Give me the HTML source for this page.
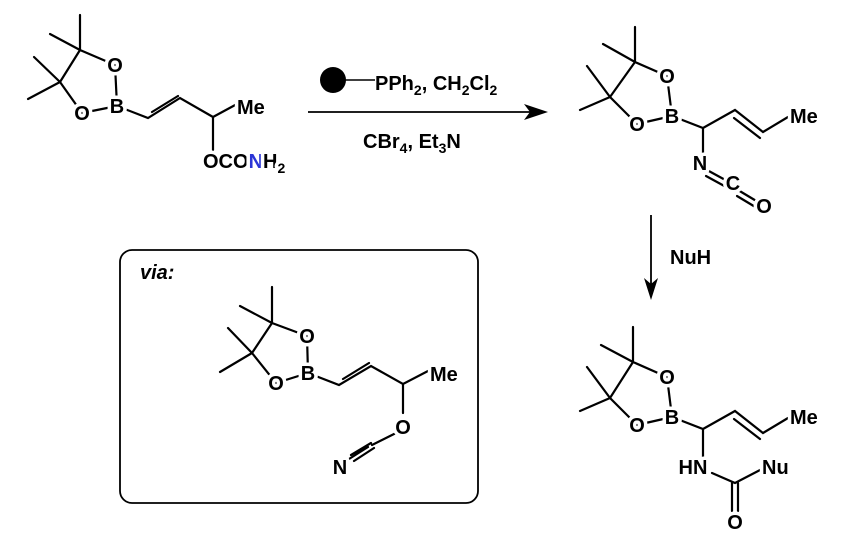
<!DOCTYPE html>
<html><head><meta charset="utf-8"><style>
html,body{margin:0;padding:0;background:#fff;}
svg{display:block;}
text{font-family:"Liberation Sans",Arial,sans-serif;font-weight:bold;font-size:20px;fill:#000;}
.h{stroke:#fff;stroke-width:7px;paint-order:stroke;stroke-linejoin:round;}
.b{stroke:#000;stroke-width:2.2;fill:none;stroke-linecap:round;}
</style></head><body>
<svg width="848" height="545" viewBox="0 0 848 545" xmlns="http://www.w3.org/2000/svg">
<!-- Structure 1: B at 117,106 -->
<g transform="translate(117,106)">
<path class="b" d="M-37,-56 L-57,-24 M-37,-56 L-37,-91 M-37,-56 L-67,-72 M-57,-24 L-83,-49 M-57,-24 L-89,-7 M-37,-56 L-2,-41 M-57,-24 L-35,7 M-2,-41 L0,0 M-35,7 L0,0"/>
<path class="b" d="M0,0 L31,12 L63,-8 L96,11 M35,6 L61,-10 M96,11 L120,-2 M96,11 L96,44"/>
<text class="h" x="-2" y="-34" text-anchor="middle">O</text>
<text class="h" x="-35" y="14" text-anchor="middle">O</text>
<text class="h" x="0" y="7" text-anchor="middle">B</text>
<text class="h" x="120" y="8">Me</text>
<text class="h" x="86" y="62">OCO<tspan fill="#2b35d6">N</tspan>H<tspan font-size="14" dy="5">2</tspan></text>
</g>
<!-- reagents -->
<circle cx="333" cy="80" r="13" fill="#000"/>
<line x1="340" y1="80" x2="375" y2="80" stroke="#000" stroke-width="1.5"/>
<text x="375" y="90">PPh<tspan font-size="14" dy="5">2</tspan><tspan dy="-5">, CH</tspan><tspan font-size="14" dy="5">2</tspan><tspan dy="-5">Cl</tspan><tspan font-size="14" dy="5">2</tspan></text>
<line x1="308" y1="112" x2="540" y2="112" stroke="#000" stroke-width="1.8"/>
<path d="M548,112 L524,104 L530,112 L524,120 Z" fill="#000"/>
<text x="363" y="148">CBr<tspan font-size="14" dy="5">4</tspan><tspan dy="-5">, Et</tspan><tspan font-size="14" dy="5">3</tspan><tspan dy="-5">N</tspan></text>
<!-- Product 1: B at 672,116 -->
<g transform="translate(672,116)">
<path class="b" d="M-37,-54 L-62,-19 M-37,-54 L-37,-89 M-37,-54 L-69,-72 M-62,-19 L-85,-50 M-62,-19 L-92,-6 M-37,-54 L-5,-40 M-62,-19 L-35,8 M-5,-40 L0,0 M-35,8 L0,0"/>
<path class="b" d="M0,0 L31,12 L63,-6 L91,16 L116,1 M62,2 L88,22 M31,12 L31,44"/>
<path class="b" d="M35,54 L57,66 M34,60 L56,72 M66,74 L86,86 M65,80 L85,92"/>
<text class="h" x="-5" y="-33" text-anchor="middle">O</text>
<text class="h" x="-35" y="15" text-anchor="middle">O</text>
<text class="h" x="0" y="7" text-anchor="middle">B</text>
<text class="h" x="118" y="7">Me</text>
<text class="h" x="28" y="54" text-anchor="middle" fill="#2b35d6">N</text>
<text class="h" x="61" y="74" text-anchor="middle">C</text>
<text class="h" x="92" y="97" text-anchor="middle">O</text>
</g>
<!-- vertical arrow -->
<line x1="651" y1="215" x2="651" y2="292" stroke="#000" stroke-width="1.8"/>
<path d="M651,300 L644,278 L651,284 L658,278 Z" fill="#000"/>
<text x="670" y="264">NuH</text>
<!-- Product 2: B at 672,417 -->
<g transform="translate(672,417)">
<path class="b" d="M-39,-55 L-62,-19 M-39,-55 L-39,-90 M-39,-55 L-71,-72 M-62,-19 L-85,-50 M-62,-19 L-92,-6 M-39,-55 L-5,-40 M-62,-19 L-35,8 M-5,-40 L0,0 M-35,8 L0,0"/>
<path class="b" d="M0,0 L31,12 L63,-6 L91,16 L116,1 M62,2 L88,22 M31,12 L31,40 M40,56 L63,66 L90,52 M60,66 L60,94 M66,66 L66,94"/>
<text class="h" x="-5" y="-33" text-anchor="middle">O</text>
<text class="h" x="-35" y="15" text-anchor="middle">O</text>
<text class="h" x="0" y="7" text-anchor="middle">B</text>
<text class="h" x="118" y="7">Me</text>
<text class="h" x="21" y="57" text-anchor="middle" fill="#2b35d6">HN</text>
<text class="h" x="90" y="57">Nu</text>
<text class="h" x="63" y="112" text-anchor="middle">O</text>
</g>
<!-- box -->
<rect x="120" y="250" width="358" height="253" rx="12" fill="none" stroke="#000" stroke-width="1.8"/>
<text x="140" y="279" font-style="italic">via:</text>
<!-- via structure: B at 308,373 -->
<g transform="translate(308,373)">
<path class="b" d="M-36,-50 L-56,-20 M-36,-50 L-36,-86 M-36,-50 L-68,-67 M-56,-20 L-80,-45 M-56,-20 L-88,-1 M-36,-50 L-1,-37 M-56,-20 L-32,10 M-1,-37 L0,0 M-32,10 L0,0"/>
<path class="b" d="M0,0 L31,12 L63,-7 L95,11 L120,-2 M35,6 L61,-10 M95,11 L95,40 M88,60 L64,72 M63,70 L43,82 M60,74 L41,86 M66,75 L46,88"/>
<text class="h" x="-1" y="-30" text-anchor="middle">O</text>
<text class="h" x="-32" y="17" text-anchor="middle">O</text>
<text class="h" x="0" y="7" text-anchor="middle">B</text>
<text class="h" x="122" y="8">Me</text>
<text class="h" x="95" y="61" text-anchor="middle">O</text>
<text class="h" x="32" y="101" text-anchor="middle">N</text>
</g>
</svg>
</body></html>
